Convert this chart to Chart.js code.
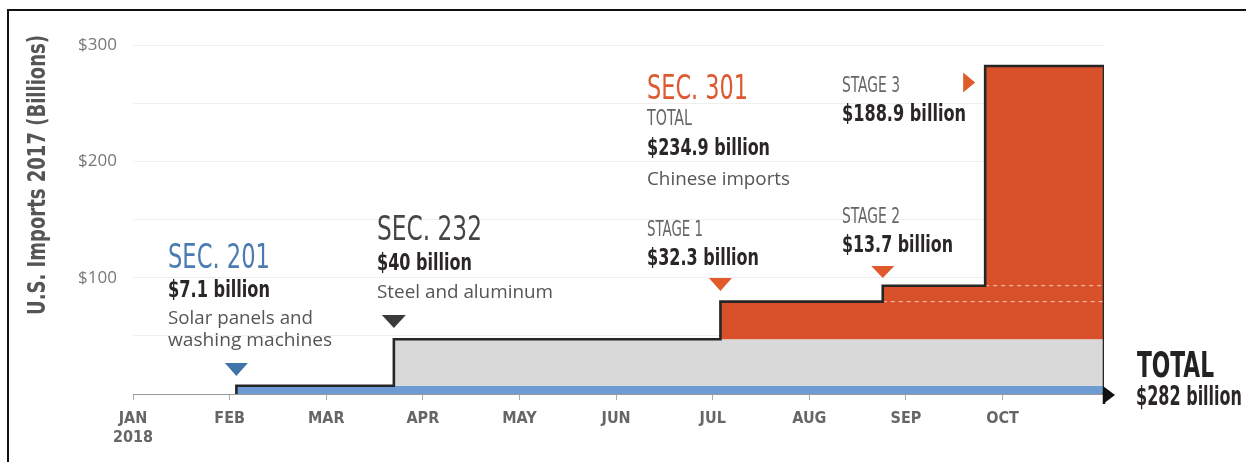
<!DOCTYPE html>
<html><head><meta charset="utf-8">
<script src="https://cdn.jsdelivr.net/npm/chart.js@4"></script>
<style>html,body{margin:0;padding:0;background:#fff;}canvas{display:block;}</style>
</head><body>
<canvas id="c" width="1246" height="462"></canvas>
<script>
// ---------------- data ----------------
const monthLabels = [['JAN','2018'],'FEB','MAR','APR','MAY','JUN','JUL','AUG','SEP','OCT'];
const yTickValues = [100, 200, 300];
const actionNames = ['SEC. 201','SEC. 232','STAGE 1','STAGE 2','STAGE 3'];
// start of each tariff action, in months since 1 Jan 2018
const actionStart = [1.07, 2.70, 6.08, 7.76, 8.82];
// value of each action, $ billions
const actionValue = [7.1, 40, 32.3, 13.7, 188.9];
// running total after each action, $ billions
const cumulativeTotal = [7.1, 47.1, 79.4, 93.1, 282];
const periodEnd = 10.05;
const sec301Total = 234.9;
const grandTotal = 282;

// ---------------- styles ----------------
const NARROW = '"Liberation Sans Narrow","DejaVu Sans Condensed",sans-serif';
const SANS = '"Open Sans","Noto Sans",sans-serif';
const BLUE = '#6d9bd2', GRAY = '#d9d9d9', ORANGE = '#d9512a';

const pts = (xs, ys) => xs.map((x, i) => ({x, y: ys[i]}));

const datasets = [
  { // outline
    data: [{x: actionStart[0], y: 0}, ...pts(actionStart, cumulativeTotal),
           {x: periodEnd, y: cumulativeTotal[4]}, {x: periodEnd, y: 0}],
    stepped: 'before', borderColor: '#262626', borderWidth: 2.6, fill: false, order: 0
  },
  { // dashed guide at stage 1 total
    data: [{x: actionStart[3], y: cumulativeTotal[2]}, {x: periodEnd, y: cumulativeTotal[2]}],
    borderColor: 'rgba(255,225,210,0.85)', borderWidth: 1, borderDash: [4, 4], fill: false, order: 1
  },
  { // dashed guide at stage 2 total
    data: [{x: actionStart[4], y: cumulativeTotal[3]}, {x: periodEnd, y: cumulativeTotal[3]}],
    borderColor: 'rgba(255,225,210,0.85)', borderWidth: 1, borderDash: [4, 4], fill: false, order: 1
  },
  { // Sec. 301 (orange)
    data: [...pts(actionStart.slice(2), cumulativeTotal.slice(2)), {x: periodEnd, y: cumulativeTotal[4]}],
    stepped: 'before', borderWidth: 0, borderColor: 'rgba(0,0,0,0)', backgroundColor: ORANGE,
    fill: {value: cumulativeTotal[1]}, order: 2
  },
  { // Sec. 232 (gray)
    data: [{x: actionStart[1], y: cumulativeTotal[1]}, {x: periodEnd, y: cumulativeTotal[1]}],
    borderWidth: 0, borderColor: 'rgba(0,0,0,0)', backgroundColor: GRAY,
    fill: {value: cumulativeTotal[0]}, order: 3
  },
  { // Sec. 201 (blue)
    data: [{x: actionStart[0], y: cumulativeTotal[0]}, {x: periodEnd, y: cumulativeTotal[0]}],
    borderWidth: 0, borderColor: 'rgba(0,0,0,0)', backgroundColor: BLUE,
    fill: 'origin', order: 4
  }
];

function txt(ctx, s, x, y, font, color, w) {
  ctx.save();
  ctx.font = font; ctx.fillStyle = color;
  ctx.textAlign = 'left'; ctx.textBaseline = 'alphabetic';
  const m = ctx.measureText(s).width;
  ctx.translate(x, y);
  if (w) ctx.scale(w / m, 1);
  ctx.fillText(s, 0, 0);
  ctx.restore();
}
function triDown(ctx, cx, top, hw, h, color) {
  ctx.save(); ctx.fillStyle = color; ctx.beginPath();
  ctx.moveTo(cx - hw, top); ctx.lineTo(cx + hw, top); ctx.lineTo(cx, top + h); ctx.closePath(); ctx.fill(); ctx.restore();
}
function triRight(ctx, left, cy, w, hh, color) {
  ctx.save(); ctx.fillStyle = color; ctx.beginPath();
  ctx.moveTo(left, cy - hh); ctx.lineTo(left, cy + hh); ctx.lineTo(left + w, cy); ctx.closePath(); ctx.fill(); ctx.restore();
}
const bill = v => '$' + v + ' billion';

const annotate = {
  id: 'annotate',
  afterDraw(chart) {
    const ctx = chart.ctx, xs = chart.scales.x, ys = chart.scales.y;
    // frame
    ctx.save(); ctx.strokeStyle = '#111'; ctx.lineWidth = 2;
    ctx.beginPath(); ctx.moveTo(8, 462); ctx.lineTo(8, 10); ctx.lineTo(1246, 10); ctx.stroke(); ctx.restore();
    // y title
    ctx.save(); ctx.translate(45, 175); ctx.rotate(-Math.PI / 2);
    ctx.font = 'bold 24px ' + NARROW; ctx.fillStyle = '#555';
    const s = 'U.S. Imports 2017 (Billions)'; const m = ctx.measureText(s).width;
    ctx.scale(280 / m, 1); ctx.fillText(s, -m / 2, 0); ctx.restore();

    const HEAD = '34px ' + NARROW, AMT = 'bold 23px ' + NARROW, LAB = '21px ' + NARROW, DESC = '18px ' + SANS;
    const DARK = '#2b2626';
    // Sec 201
    txt(ctx, actionNames[0], 168, 268, HEAD, '#4a7cb3', 102);
    txt(ctx, bill(actionValue[0]), 168, 297, AMT, DARK, 102);
    txt(ctx, 'Solar panels and', 168, 324, DESC, '#555', 145);
    txt(ctx, 'washing machines', 168, 346, DESC, '#555', 164);
    // Sec 232
    txt(ctx, actionNames[1], 377, 240, HEAD, '#464646', 105);
    txt(ctx, bill(actionValue[1]), 377, 270, AMT, DARK, 95);
    txt(ctx, 'Steel and aluminum', 377, 298, DESC, '#555', 176);
    // Sec 301
    txt(ctx, 'SEC. 301', 647, 99, HEAD, '#dd5a30', 101);
    txt(ctx, 'TOTAL', 647, 125, LAB, '#666', 45);
    txt(ctx, bill(sec301Total), 647, 155, AMT, DARK, 123);
    txt(ctx, 'Chinese imports', 647, 185, DESC, '#555', 143);
    txt(ctx, actionNames[2], 647, 236, LAB, '#666', 56);
    txt(ctx, bill(actionValue[2]), 647, 265, AMT, DARK, 112);
    txt(ctx, actionNames[4], 842, 92, LAB, '#666', 58);
    txt(ctx, bill(actionValue[4]), 842, 121, AMT, DARK, 124);
    txt(ctx, actionNames[3], 842, 223, LAB, '#666', 58);
    txt(ctx, bill(actionValue[3]), 842, 252, AMT, DARK, 111);
    // total
    txt(ctx, 'TOTAL', 1137, 377, 'bold 36px ' + NARROW, '#222', 77);
    txt(ctx, bill(grandTotal), 1136, 405, 'bold 26px ' + NARROW, DARK, 106);

    // markers
    const px = i => xs.getPixelForValue(actionStart[i]);
    triDown(ctx, px(0), 363, 11.5, 13, '#3f74ab');
    triDown(ctx, px(1), 315, 12, 13, '#3a3a3a');
    triDown(ctx, px(2), 278, 11.5, 13, '#e05a2c');
    triDown(ctx, px(3), 266, 11.5, 12, '#e05a2c');
    triRight(ctx, px(4) - 22, 82.5, 12, 10, '#e05a2c');
    // axis arrow and end stroke reaching just below the axis
    const y0 = ys.getPixelForValue(0);
    ctx.save(); ctx.strokeStyle = '#262626'; ctx.lineWidth = 2.6;
    ctx.beginPath(); ctx.moveTo(xs.right, y0 - 2); ctx.lineTo(xs.right, y0 + 10); ctx.stroke(); ctx.restore();
    triRight(ctx, xs.right - 1, y0 + 1, 12, 9, '#111');
  }
};

new Chart(document.getElementById('c'), {
  type: 'line',
  data: {datasets},
  plugins: [annotate],
  options: {
    responsive: false, animation: false,
    layout: {padding: {top: 45, right: 142, left: 0, bottom: 0}},
    elements: {point: {radius: 0}, line: {tension: 0}},
    plugins: {legend: {display: false}, tooltip: {enabled: false}},
    scales: {
      x: {
        type: 'linear', min: 0, max: periodEnd,
        afterBuildTicks: s => { s.ticks = monthLabels.map((_, i) => ({value: i})); },
        afterFit: s => { s.height = 68; },
        ticks: {
          autoSkip: false, maxRotation: 0, padding: 9, color: '#666',
          font: {family: NARROW, size: 16, weight: 'bold'},
          callback: v => monthLabels[v]
        },
        grid: {drawOnChartArea: false, drawTicks: true, tickLength: 6, color: '#aaa'},
        border: {display: true, color: '#999', width: 1}
      },
      y: {
        min: 0, max: 300,
        afterBuildTicks: s => { s.ticks = [0, 50, 100, 150, 200, 250, 300].map(v => ({value: v})); },
        afterFit: s => { s.width = 133; },
        ticks: {
          padding: 16, color: '#777', font: {family: SANS, size: 17},
          callback: v => yTickValues.includes(v) ? '$' + v : ''
        },
        grid: {drawTicks: false, color: c => c.tick && c.tick.value === 0 ? 'rgba(0,0,0,0)' : '#efefef'},
        border: {display: false}
      }
    }
  }
});
</script>
</body></html>
